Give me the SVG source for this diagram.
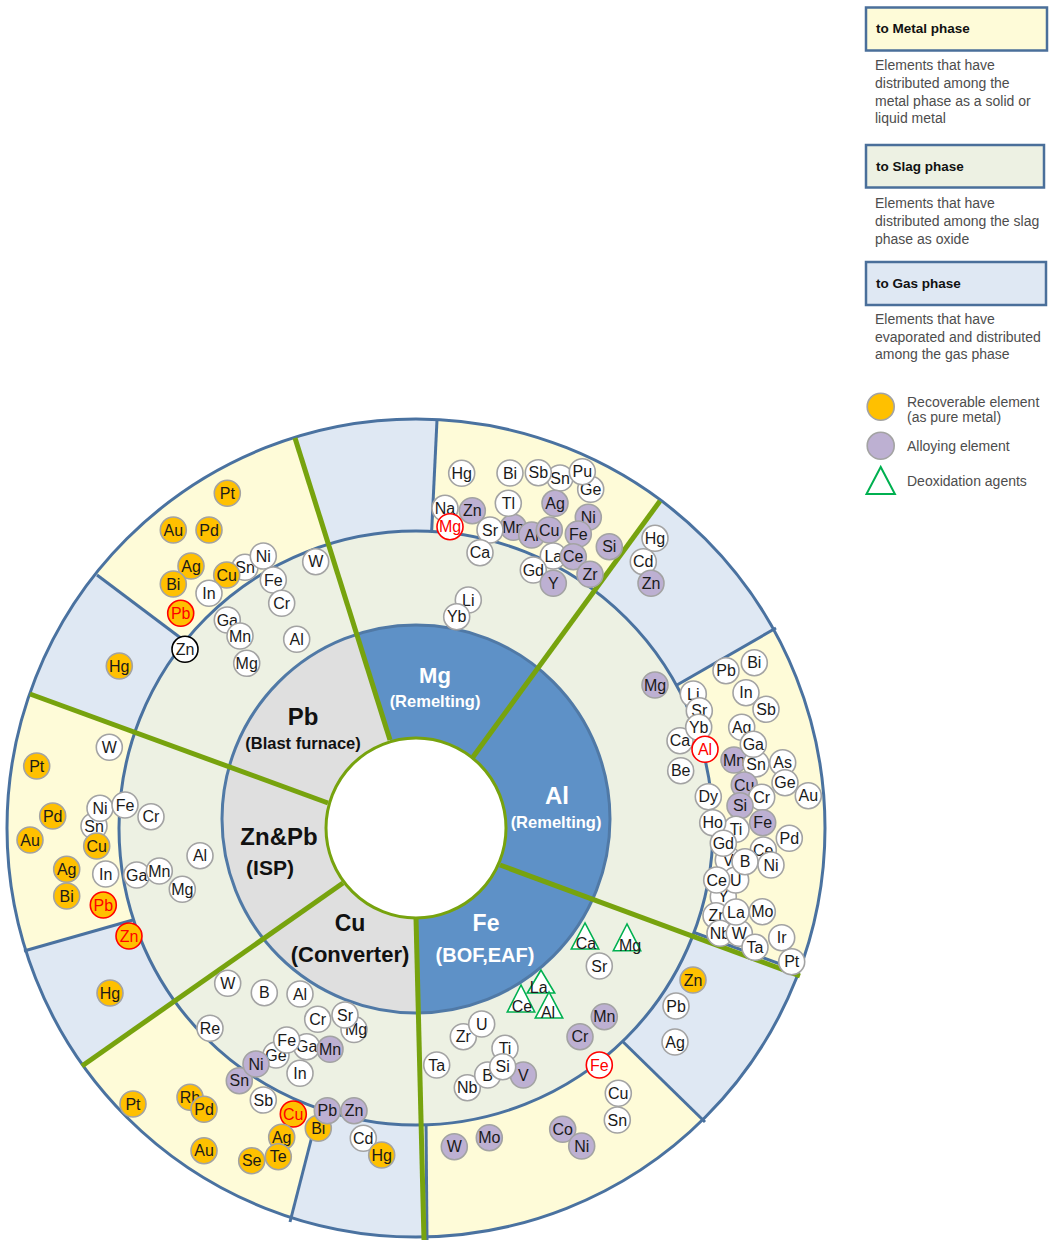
<svg xmlns="http://www.w3.org/2000/svg" width="1050" height="1240" viewBox="0 0 1050 1240">
<style>
.e circle{stroke:#a3a3a3;stroke-width:1.6}
.e text{font-family:"Liberation Sans",Arial,sans-serif;font-size:16px;text-anchor:middle;fill:#1a1a1a}
.w circle{fill:#fff}
.p circle{fill:#bdb0d2}
.y circle{fill:#ffc000}
.r circle{fill:#fff;stroke:#ff0000}
.ry circle{fill:#ffc000;stroke:#ff0000}
.r text,.ry text{fill:#ff0000}
.k circle{fill:#fff;stroke:#000}
.t polygon{fill:#fff;stroke:#00b050;stroke-width:1.6}
.t text{font-family:"Liberation Sans",Arial,sans-serif;font-size:16px;text-anchor:middle;fill:#1a1a1a}
.sep{stroke:#4a72a0;stroke-width:3;fill:none}
.div{stroke:#77a30e;stroke-width:5;fill:none}
.gas{fill:#dfe8f3}
.ttl{font-family:"Liberation Sans",Arial,sans-serif;font-weight:bold;text-anchor:middle}
.dk{fill:#111}
.wh{fill:#fff}
.lbox{stroke:#4a6f9a;stroke-width:2.5}
.lt{font-family:"Liberation Sans",Arial,sans-serif;font-weight:bold;font-size:13.5px;fill:#111}
.ld{font-family:"Liberation Sans",Arial,sans-serif;font-size:14px;fill:#4d4d4d}
</style>
<defs>
<clipPath id="outerClip"><circle cx="416" cy="828" r="409"/></clipPath>
<clipPath id="ringClip"><circle cx="416" cy="819" r="194"/></clipPath>
</defs>

<g id="outer-ring">
<circle cx="416" cy="828" r="409" fill="#fefbd8"/>
<g clip-path="url(#outerClip)">
<polygon class="gas" points="211,661 -79,443 -95,649 150,738"/>
<polygon class="gas" points="333,559 240,263 440,350 431,560"/>
<polygon class="gas" points="585,604 768,353 869,575 653,699"/>
<polygon class="gas" points="678,931 969,1038 863,1276 611,1030"/>
<polygon class="gas" points="420,1105 425,1300 271,1300 322,1096"/>
<polygon class="gas" points="149,916 -123,992 -66,1170 187,992"/>
</g>
<line class="sep" x1="97" y1="575" x2="190" y2="645"/>
<line class="sep" x1="437" y1="420" x2="431" y2="545"/>
<line class="sep" x1="776" y1="628" x2="670" y2="689"/>
<line class="sep" x1="615" y1="1034" x2="705" y2="1122"/>
<line class="sep" x1="320" y1="1105" x2="290" y2="1222"/>
<line class="sep" x1="24" y1="951" x2="140" y2="918"/>
<line class="sep" x1="426" y1="1120" x2="427" y2="1240"/>
<line class="sep" x1="690" y1="931" x2="798" y2="970.5"/>
<circle cx="416" cy="828" r="409" fill="none" stroke="#4a72a0" stroke-width="3"/>
</g>

<g id="slag-ring">
<circle cx="416" cy="828" r="297" fill="#edf1e3" stroke="#4a72a0" stroke-width="3"/>
</g>

<g id="process-ring">
<circle cx="416" cy="819" r="194" fill="#5e91c7"/>
<polygon clip-path="url(#ringClip)" points="390,740 327,540 150,540 150,1100 421,1100 416,918" fill="#dfdfdf"/>
<circle cx="416" cy="819" r="194" fill="none" stroke="#5079a6" stroke-width="3"/>
<circle cx="416" cy="828" r="90" fill="#fff" stroke="#77a30e" stroke-width="3"/>
</g>

<g id="dividers">
<line class="div" x1="390" y1="740" x2="295" y2="438"/>
<line class="div" x1="473" y1="757" x2="660" y2="501"/>
<line class="div" x1="500" y1="865" x2="800" y2="976"/>
<line class="div" x1="416" y1="918" x2="424" y2="1240"/>
<line class="div" x1="343" y1="883" x2="82" y2="1066"/>
<line class="div" x1="328" y1="803" x2="30" y2="694"/>
</g>

<g id="titles">
<g id="title-pb"><text class="ttl dk" x="303" y="725" font-size="24">Pb</text><text class="ttl dk" x="303" y="749" font-size="16.5">(Blast furnace)</text></g>
<g id="title-mg"><text class="ttl wh" x="435" y="683" font-size="22">Mg</text><text class="ttl wh" x="435" y="707" font-size="16.5">(Remelting)</text></g>
<g id="title-al"><text class="ttl wh" x="557" y="804" font-size="24">Al</text><text class="ttl wh" x="556" y="828" font-size="16.5">(Remelting)</text></g>
<g id="title-znpb"><text class="ttl dk" x="279" y="845" font-size="24">Zn&amp;Pb</text><text class="ttl dk" x="270" y="875" font-size="21">(ISP)</text></g>
<g id="title-cu"><text class="ttl dk" x="350" y="931" font-size="23">Cu</text><text class="ttl dk" x="350" y="962" font-size="22">(Converter)</text></g>
<g id="title-fe"><text class="ttl wh" x="486" y="931" font-size="23">Fe</text><text class="ttl wh" x="485" y="962" font-size="20">(BOF,EAF)</text></g>
</g>

<g id="mg-elements">
<g id="mg-hg" class="e w"><circle cx="461.7" cy="473.3" r="13"/><text x="461.7" y="479">Hg</text></g>
<g id="mg-bi" class="e w"><circle cx="510" cy="473" r="13"/><text x="510" y="478.7">Bi</text></g>
<g id="mg-sn" class="e w"><circle cx="560" cy="478" r="13"/><text x="560" y="483.7">Sn</text></g>
<g id="mg-ge" class="e w"><circle cx="590.7" cy="489.3" r="13"/><text x="590.7" y="495">Ge</text></g>
<g id="mg-sb" class="e w"><circle cx="538.3" cy="472.7" r="13"/><text x="538.3" y="478.4">Sb</text></g>
<g id="mg-pu" class="e w"><circle cx="582.3" cy="471.7" r="13"/><text x="582.3" y="477.4">Pu</text></g>
<g id="mg-na" class="e w"><circle cx="445" cy="508.3" r="13"/><text x="445" y="514">Na</text></g>
<g id="mg-mn" class="e p"><circle cx="513.3" cy="527.3" r="13"/><text x="513.3" y="533">Mn</text></g>
<g id="mg-tl" class="e w"><circle cx="508.3" cy="503.3" r="13"/><text x="508.3" y="509">Tl</text></g>
<g id="mg-ag" class="e p"><circle cx="555" cy="503.3" r="13"/><text x="555" y="509">Ag</text></g>
<g id="mg-ni" class="e p"><circle cx="588.3" cy="517.3" r="13"/><text x="588.3" y="523">Ni</text></g>
<g id="mg-zn" class="e p"><circle cx="472.3" cy="510.7" r="13"/><text x="472.3" y="516.4">Zn</text></g>
<g id="mg-mg" class="e r"><circle cx="450" cy="526.7" r="13"/><text x="450" y="532.4">Mg</text></g>
<g id="mg-sr" class="e w"><circle cx="490" cy="530" r="13"/><text x="490" y="535.7">Sr</text></g>
<g id="mg-al" class="e p"><circle cx="531.7" cy="535" r="13"/><text x="531.7" y="540.7">Al</text></g>
<g id="mg-cu" class="e p"><circle cx="549.3" cy="530" r="13"/><text x="549.3" y="535.7">Cu</text></g>
<g id="mg-fe" class="e p"><circle cx="578.3" cy="534" r="13"/><text x="578.3" y="539.7">Fe</text></g>
<g id="mg-si" class="e p"><circle cx="609.3" cy="546.7" r="13"/><text x="609.3" y="552.4">Si</text></g>
<g id="mg-ca" class="e w"><circle cx="480" cy="552.7" r="13"/><text x="480" y="558.4">Ca</text></g>
<g id="mg-la" class="e w"><circle cx="553.3" cy="556" r="13"/><text x="553.3" y="561.7">La</text></g>
<g id="mg-gd" class="e w"><circle cx="533.3" cy="570" r="13"/><text x="533.3" y="575.7">Gd</text></g>
<g id="mg-y" class="e p"><circle cx="553.3" cy="583.3" r="13"/><text x="553.3" y="589">Y</text></g>
<g id="mg-ce" class="e p"><circle cx="573.3" cy="556.7" r="13"/><text x="573.3" y="562.4">Ce</text></g>
<g id="mg-zr" class="e p"><circle cx="590" cy="574.3" r="13"/><text x="590" y="580">Zr</text></g>
<g id="mg-li" class="e w"><circle cx="468.3" cy="600" r="13"/><text x="468.3" y="605.7">Li</text></g>
<g id="mg-yb" class="e w"><circle cx="456.7" cy="616.7" r="13"/><text x="456.7" y="622.4">Yb</text></g>
</g>

<g id="pb-elements">
<g id="pb-pt" class="e y"><circle cx="227.3" cy="493.3" r="13"/><text x="227.3" y="499">Pt</text></g>
<g id="pb-au" class="e y"><circle cx="173.3" cy="530" r="13"/><text x="173.3" y="535.7">Au</text></g>
<g id="pb-pd" class="e y"><circle cx="209" cy="530" r="13"/><text x="209" y="535.7">Pd</text></g>
<g id="pb-ag" class="e y"><circle cx="191" cy="566" r="13"/><text x="191" y="571.7">Ag</text></g>
<g id="pb-bi" class="e y"><circle cx="173.3" cy="584" r="13"/><text x="173.3" y="589.7">Bi</text></g>
<g id="pb-sn" class="e w"><circle cx="245" cy="567.3" r="13"/><text x="245" y="573">Sn</text></g>
<g id="pb-ni" class="e w"><circle cx="263.3" cy="556" r="13"/><text x="263.3" y="561.7">Ni</text></g>
<g id="pb-cu" class="e y"><circle cx="226.7" cy="575" r="13"/><text x="226.7" y="580.7">Cu</text></g>
<g id="pb-in" class="e w"><circle cx="209" cy="593.3" r="13"/><text x="209" y="599">In</text></g>
<g id="pb-fe" class="e w"><circle cx="273.3" cy="580" r="13"/><text x="273.3" y="585.7">Fe</text></g>
<g id="pb-w" class="e w"><circle cx="315.7" cy="561.7" r="13"/><text x="315.7" y="567.4">W</text></g>
<g id="pb-cr" class="e w"><circle cx="281.7" cy="603.3" r="13"/><text x="281.7" y="609">Cr</text></g>
<g id="pb-pb" class="e ry"><circle cx="180.7" cy="613.3" r="13"/><text x="180.7" y="619">Pb</text></g>
<g id="pb-ga" class="e w"><circle cx="227.3" cy="620" r="13"/><text x="227.3" y="625.7">Ga</text></g>
<g id="pb-mn" class="e w"><circle cx="240" cy="636" r="13"/><text x="240" y="641.7">Mn</text></g>
<g id="pb-al" class="e w"><circle cx="296.7" cy="639.3" r="13"/><text x="296.7" y="645">Al</text></g>
<g id="pb-zn" class="e k"><circle cx="185" cy="649.3" r="13"/><text x="185" y="655">Zn</text></g>
<g id="pb-mg" class="e w"><circle cx="246.7" cy="663.3" r="13"/><text x="246.7" y="669">Mg</text></g>
<g id="pb-hg" class="e y"><circle cx="119.3" cy="666" r="13"/><text x="119.3" y="671.7">Hg</text></g>
</g>

<g id="al-elements">
<g id="al-hg" class="e w"><circle cx="655" cy="538.3" r="13"/><text x="655" y="544">Hg</text></g>
<g id="al-cd" class="e w"><circle cx="643.3" cy="561.7" r="13"/><text x="643.3" y="567.4">Cd</text></g>
<g id="al-zn" class="e p"><circle cx="651" cy="583.3" r="13"/><text x="651" y="589">Zn</text></g>
<g id="al-mg" class="e p"><circle cx="655" cy="685" r="13"/><text x="655" y="690.7">Mg</text></g>
<g id="al-pb" class="e w"><circle cx="726" cy="670.7" r="13"/><text x="726" y="676.4">Pb</text></g>
<g id="al-bi" class="e w"><circle cx="754.3" cy="662.7" r="13"/><text x="754.3" y="668.4">Bi</text></g>
<g id="al-li" class="e w"><circle cx="693.3" cy="694" r="13"/><text x="693.3" y="699.7">Li</text></g>
<g id="al-sr" class="e w"><circle cx="699.3" cy="710.7" r="13"/><text x="699.3" y="716.4">Sr</text></g>
<g id="al-in" class="e w"><circle cx="746" cy="692.7" r="13"/><text x="746" y="698.4">In</text></g>
<g id="al-sb" class="e w"><circle cx="766" cy="709.3" r="13"/><text x="766" y="715">Sb</text></g>
<g id="al-ca" class="e w"><circle cx="680" cy="740.7" r="13"/><text x="680" y="746.4">Ca</text></g>
<g id="al-yb" class="e w"><circle cx="698.7" cy="727.3" r="13"/><text x="698.7" y="733">Yb</text></g>
<g id="al-al" class="e r"><circle cx="705" cy="749.3" r="13"/><text x="705" y="755">Al</text></g>
<g id="al-ag" class="e w"><circle cx="741.7" cy="727.3" r="13"/><text x="741.7" y="733">Ag</text></g>
<g id="al-mn" class="e p"><circle cx="734" cy="760" r="13"/><text x="734" y="765.7">Mn</text></g>
<g id="al-sn" class="e w"><circle cx="756" cy="764" r="13"/><text x="756" y="769.7">Sn</text></g>
<g id="al-ga" class="e w"><circle cx="753.3" cy="744.3" r="13"/><text x="753.3" y="750">Ga</text></g>
<g id="al-as" class="e w"><circle cx="782.7" cy="762.7" r="13"/><text x="782.7" y="768.4">As</text></g>
<g id="al-be" class="e w"><circle cx="680.7" cy="770.7" r="13"/><text x="680.7" y="776.4">Be</text></g>
<g id="al-cu" class="e p"><circle cx="744.3" cy="785" r="13"/><text x="744.3" y="790.7">Cu</text></g>
<g id="al-ge" class="e w"><circle cx="785" cy="782.7" r="13"/><text x="785" y="788.4">Ge</text></g>
<g id="al-au" class="e w"><circle cx="808.3" cy="795.7" r="13"/><text x="808.3" y="801.4">Au</text></g>
<g id="al-cr" class="e w"><circle cx="761.7" cy="797.3" r="13"/><text x="761.7" y="803">Cr</text></g>
<g id="al-dy" class="e w"><circle cx="708.3" cy="796.7" r="13"/><text x="708.3" y="802.4">Dy</text></g>
<g id="al-si" class="e p"><circle cx="740" cy="805.7" r="13"/><text x="740" y="811.4">Si</text></g>
<g id="al-fe" class="e p"><circle cx="762.7" cy="822.7" r="13"/><text x="762.7" y="828.4">Fe</text></g>
<g id="al-ti" class="e w"><circle cx="736" cy="829.3" r="13"/><text x="736" y="835">Ti</text></g>
<g id="al-ho" class="e w"><circle cx="712.7" cy="822.7" r="13"/><text x="712.7" y="828.4">Ho</text></g>
<g id="al-v" class="e w"><circle cx="728.3" cy="860" r="13"/><text x="728.3" y="865.7">V</text></g>
<g id="al-gd" class="e w"><circle cx="723.3" cy="843.3" r="13"/><text x="723.3" y="849">Gd</text></g>
<g id="al-y" class="e w"><circle cx="723.3" cy="896.7" r="13"/><text x="723.3" y="902.4">Y</text></g>
<g id="al-u" class="e w"><circle cx="735.7" cy="880" r="13"/><text x="735.7" y="885.7">U</text></g>
<g id="al-ce2" class="e w"><circle cx="716.7" cy="880" r="13"/><text x="716.7" y="885.7">Ce</text></g>
<g id="al-ce1" class="e w"><circle cx="763.3" cy="850" r="13"/><text x="763.3" y="855.7">Ce</text></g>
<g id="al-b" class="e w"><circle cx="745" cy="861.7" r="13"/><text x="745" y="867.4">B</text></g>
<g id="al-ni" class="e w"><circle cx="771" cy="865" r="13"/><text x="771" y="870.7">Ni</text></g>
<g id="al-pd" class="e w"><circle cx="789.3" cy="838.3" r="13"/><text x="789.3" y="844">Pd</text></g>
<g id="al-zr" class="e w"><circle cx="716" cy="915.7" r="13"/><text x="716" y="921.4">Zr</text></g>
<g id="al-nb" class="e w"><circle cx="720" cy="933.3" r="13"/><text x="720" y="939">Nb</text></g>
<g id="al-w" class="e w"><circle cx="739.3" cy="933.3" r="13"/><text x="739.3" y="939">W</text></g>
<g id="al-la" class="e w"><circle cx="736" cy="912" r="13"/><text x="736" y="917.7">La</text></g>
<g id="al-mo" class="e w"><circle cx="762.3" cy="911.7" r="13"/><text x="762.3" y="917.4">Mo</text></g>
<g id="al-ta" class="e w"><circle cx="755" cy="947.3" r="13"/><text x="755" y="953">Ta</text></g>
<g id="al-ir" class="e w"><circle cx="781.7" cy="937.7" r="13"/><text x="781.7" y="943.4">Ir</text></g>
<g id="al-pt" class="e w"><circle cx="791.7" cy="961.7" r="13"/><text x="791.7" y="967.4">Pt</text></g>
</g>

<g id="zn-elements">
<g id="zn-w" class="e w"><circle cx="109.3" cy="747.3" r="13"/><text x="109.3" y="753">W</text></g>
<g id="zn-pt" class="e y"><circle cx="36.7" cy="766" r="13"/><text x="36.7" y="771.7">Pt</text></g>
<g id="zn-pd" class="e y"><circle cx="52.7" cy="816" r="13"/><text x="52.7" y="821.7">Pd</text></g>
<g id="zn-au" class="e y"><circle cx="30" cy="840" r="13"/><text x="30" y="845.7">Au</text></g>
<g id="zn-sn" class="e w"><circle cx="94" cy="826" r="13"/><text x="94" y="831.7">Sn</text></g>
<g id="zn-ni" class="e w"><circle cx="100" cy="808.3" r="13"/><text x="100" y="814">Ni</text></g>
<g id="zn-fe" class="e w"><circle cx="125" cy="805" r="13"/><text x="125" y="810.7">Fe</text></g>
<g id="zn-cr" class="e w"><circle cx="151" cy="816.7" r="13"/><text x="151" y="822.4">Cr</text></g>
<g id="zn-cu" class="e y"><circle cx="96.7" cy="846" r="13"/><text x="96.7" y="851.7">Cu</text></g>
<g id="zn-al" class="e w"><circle cx="200" cy="855.7" r="13"/><text x="200" y="861.4">Al</text></g>
<g id="zn-ag" class="e y"><circle cx="66.7" cy="869.3" r="13"/><text x="66.7" y="875">Ag</text></g>
<g id="zn-in" class="e w"><circle cx="105.7" cy="874" r="13"/><text x="105.7" y="879.7">In</text></g>
<g id="zn-ga" class="e w"><circle cx="136.7" cy="875" r="13"/><text x="136.7" y="880.7">Ga</text></g>
<g id="zn-mn" class="e w"><circle cx="159.3" cy="871" r="13"/><text x="159.3" y="876.7">Mn</text></g>
<g id="zn-mg" class="e w"><circle cx="182.3" cy="889.3" r="13"/><text x="182.3" y="895">Mg</text></g>
<g id="zn-bi" class="e y"><circle cx="66.7" cy="896" r="13"/><text x="66.7" y="901.7">Bi</text></g>
<g id="zn-pb" class="e ry"><circle cx="103.3" cy="905" r="13"/><text x="103.3" y="910.7">Pb</text></g>
<g id="zn-zn" class="e ry"><circle cx="129" cy="936" r="13"/><text x="129" y="941.7">Zn</text></g>
<g id="zn-hg" class="e y"><circle cx="110" cy="993" r="13"/><text x="110" y="998.7">Hg</text></g>
</g>

<g id="cu-elements">
<g id="cu-w" class="e w"><circle cx="227.7" cy="983.3" r="13"/><text x="227.7" y="989">W</text></g>
<g id="cu-b" class="e w"><circle cx="264.3" cy="992.7" r="13"/><text x="264.3" y="998.4">B</text></g>
<g id="cu-al" class="e w"><circle cx="300" cy="994" r="13"/><text x="300" y="999.7">Al</text></g>
<g id="cu-cr" class="e w"><circle cx="317.7" cy="1019.3" r="13"/><text x="317.7" y="1025">Cr</text></g>
<g id="cu-mg" class="e w"><circle cx="354" cy="1029.5" r="13"/><text x="356" y="1035.2">Mg</text></g>
<g id="cu-sr" class="e w"><circle cx="345" cy="1015" r="13"/><text x="345" y="1020.7">Sr</text></g>
<g id="cu-re" class="e w"><circle cx="210" cy="1028.3" r="13"/><text x="210" y="1034">Re</text></g>
<g id="cu-ge" class="e w"><circle cx="276" cy="1055" r="13"/><text x="276" y="1060.7">Ge</text></g>
<g id="cu-ga" class="e w"><circle cx="306.7" cy="1046.7" r="13"/><text x="306.7" y="1052.4">Ga</text></g>
<g id="cu-fe" class="e w"><circle cx="286.7" cy="1040" r="13"/><text x="286.7" y="1045.7">Fe</text></g>
<g id="cu-mn" class="e p"><circle cx="330" cy="1049.3" r="13"/><text x="330" y="1055">Mn</text></g>
<g id="cu-sn" class="e p"><circle cx="239.3" cy="1080.7" r="13"/><text x="239.3" y="1086.4">Sn</text></g>
<g id="cu-ni" class="e p"><circle cx="256" cy="1064" r="13"/><text x="256" y="1069.7">Ni</text></g>
<g id="cu-in" class="e w"><circle cx="300" cy="1073.3" r="13"/><text x="300" y="1079">In</text></g>
<g id="cu-sb" class="e w"><circle cx="263.3" cy="1100" r="13"/><text x="263.3" y="1105.7">Sb</text></g>
<g id="cu-rh" class="e y"><circle cx="190" cy="1097.3" r="13"/><text x="190" y="1103">Rh</text></g>
<g id="cu-pd" class="e y"><circle cx="204" cy="1109.3" r="13"/><text x="204" y="1115">Pd</text></g>
<g id="cu-cu" class="e ry"><circle cx="293.3" cy="1114" r="13"/><text x="293.3" y="1119.7">Cu</text></g>
<g id="cu-bi" class="e y"><circle cx="318.3" cy="1128.3" r="13"/><text x="318.3" y="1134">Bi</text></g>
<g id="cu-pb" class="e p"><circle cx="327.3" cy="1110.7" r="13"/><text x="327.3" y="1116.4">Pb</text></g>
<g id="cu-zn" class="e p"><circle cx="354" cy="1110.7" r="13"/><text x="354" y="1116.4">Zn</text></g>
<g id="cu-cd" class="e w"><circle cx="363.3" cy="1138.3" r="13"/><text x="363.3" y="1144">Cd</text></g>
<g id="cu-hg" class="e y"><circle cx="381.7" cy="1155" r="13"/><text x="381.7" y="1160.7">Hg</text></g>
<g id="cu-ag" class="e y"><circle cx="281.7" cy="1137.3" r="13"/><text x="281.7" y="1143">Ag</text></g>
<g id="cu-te" class="e y"><circle cx="278.3" cy="1156.7" r="13"/><text x="278.3" y="1162.4">Te</text></g>
<g id="cu-se" class="e y"><circle cx="251.7" cy="1160.7" r="13"/><text x="251.7" y="1166.4">Se</text></g>
<g id="cu-au" class="e y"><circle cx="204" cy="1150.7" r="13"/><text x="204" y="1156.4">Au</text></g>
<g id="cu-pt" class="e y"><circle cx="133" cy="1104" r="13"/><text x="133" y="1109.7">Pt</text></g>
</g>

<g id="fe-elements">
<g id="fe-ca" class="t"><polygon points="585,923 571.3,949 598.7,949"/><text x="586" y="949">Ca</text></g>
<g id="fe-mgt" class="t"><polygon points="627,924 613.3,950.7 640.7,950.7"/><text x="630" y="950.5">Mg</text></g>
<g id="fe-la" class="t"><polygon points="541,970 527.3,993 554.7,993"/><text x="538.7" y="993">La</text></g>
<g id="fe-ce" class="t"><polygon points="521,985 507.3,1012 534.7,1012"/><text x="522" y="1011.5">Ce</text></g>
<g id="fe-al" class="t"><polygon points="549,992 535.3,1018 562.7,1018"/><text x="548" y="1018">Al</text></g>
<g id="fe-sr" class="e w"><circle cx="599.3" cy="966" r="13"/><text x="599.3" y="971.7">Sr</text></g>
<g id="fe-mn" class="e p"><circle cx="604.3" cy="1016.7" r="13"/><text x="604.3" y="1022.4">Mn</text></g>
<g id="fe-cr" class="e p"><circle cx="580" cy="1036.7" r="13"/><text x="580" y="1042.4">Cr</text></g>
<g id="fe-zr" class="e w"><circle cx="463.3" cy="1036.7" r="13"/><text x="463.3" y="1042.4">Zr</text></g>
<g id="fe-u" class="e w"><circle cx="481.7" cy="1024" r="13"/><text x="481.7" y="1029.7">U</text></g>
<g id="fe-ta" class="e w"><circle cx="436.7" cy="1065" r="13"/><text x="436.7" y="1070.7">Ta</text></g>
<g id="fe-nb" class="e w"><circle cx="467.3" cy="1087.7" r="13"/><text x="467.3" y="1093.4">Nb</text></g>
<g id="fe-b" class="e w"><circle cx="487.7" cy="1075" r="13"/><text x="487.7" y="1080.7">B</text></g>
<g id="fe-v" class="e p"><circle cx="523.3" cy="1075" r="13"/><text x="523.3" y="1080.7">V</text></g>
<g id="fe-ti" class="e w"><circle cx="505" cy="1048.3" r="13"/><text x="505" y="1054">Ti</text></g>
<g id="fe-si" class="e w"><circle cx="502.7" cy="1066.7" r="13"/><text x="502.7" y="1072.4">Si</text></g>
<g id="fe-fe" class="e r"><circle cx="599.3" cy="1065" r="13"/><text x="599.3" y="1070.7">Fe</text></g>
<g id="fe-cu" class="e w"><circle cx="618.3" cy="1093.3" r="13"/><text x="618.3" y="1099">Cu</text></g>
<g id="fe-sn" class="e w"><circle cx="617.3" cy="1120" r="13"/><text x="617.3" y="1125.7">Sn</text></g>
<g id="fe-co" class="e p"><circle cx="562.7" cy="1129.3" r="13"/><text x="562.7" y="1135">Co</text></g>
<g id="fe-ni" class="e p"><circle cx="581.7" cy="1146" r="13"/><text x="581.7" y="1151.7">Ni</text></g>
<g id="fe-mo" class="e p"><circle cx="489.3" cy="1137.7" r="13"/><text x="489.3" y="1143.4">Mo</text></g>
<g id="fe-w" class="e p"><circle cx="454.3" cy="1146.7" r="13"/><text x="454.3" y="1152.4">W</text></g>
<g id="fe-zn" class="e y"><circle cx="693" cy="980" r="13"/><text x="693" y="985.7">Zn</text></g>
<g id="fe-pb" class="e w"><circle cx="676" cy="1006" r="13"/><text x="676" y="1011.7">Pb</text></g>
<g id="fe-ag" class="e w"><circle cx="675" cy="1042" r="13"/><text x="675" y="1047.7">Ag</text></g>
</g>

<g id="legend">
<g id="legend-metal">
<rect class="lbox" x="866" y="7.5" width="181" height="43" fill="#fefbd8"/>
<text class="lt" x="876" y="33">to Metal phase</text>
<text class="ld" x="875" y="70">Elements that have</text>
<text class="ld" x="875" y="88">distributed among the</text>
<text class="ld" x="875" y="105.5">metal phase as a solid or</text>
<text class="ld" x="875" y="123">liquid metal</text>
</g>
<g id="legend-slag">
<rect class="lbox" x="866" y="145" width="178" height="42.5" fill="#edf1e3"/>
<text class="lt" x="876" y="170.5">to Slag phase</text>
<text class="ld" x="875" y="208">Elements that have</text>
<text class="ld" x="875" y="226">distributed among the slag</text>
<text class="ld" x="875" y="243.5">phase as oxide</text>
</g>
<g id="legend-gas">
<rect class="lbox" x="866" y="262" width="180" height="43" fill="#dfe8f3"/>
<text class="lt" x="876" y="287.5">to Gas phase</text>
<text class="ld" x="875" y="324">Elements that have</text>
<text class="ld" x="875" y="341.5">evaporated and distributed</text>
<text class="ld" x="875" y="359">among the gas phase</text>
</g>
<g id="legend-recoverable">
<circle cx="880.7" cy="406.7" r="13.5" fill="#ffc000" stroke="#a3a3a3" stroke-width="1.6"/>
<text class="ld" x="907" y="407">Recoverable element</text>
<text class="ld" x="907" y="421.5">(as pure metal)</text>
</g>
<g id="legend-alloying">
<circle cx="880.7" cy="445.7" r="13.5" fill="#bdb0d2" stroke="#a3a3a3" stroke-width="1.6"/>
<text class="ld" x="907" y="451">Alloying element</text>
</g>
<g id="legend-deox">
<polygon points="880.7,467 866.5,494 894.9,494" fill="#fff" stroke="#00b050" stroke-width="2"/>
<text class="ld" x="907" y="486">Deoxidation agents</text>
</g>
</g>
</svg>
